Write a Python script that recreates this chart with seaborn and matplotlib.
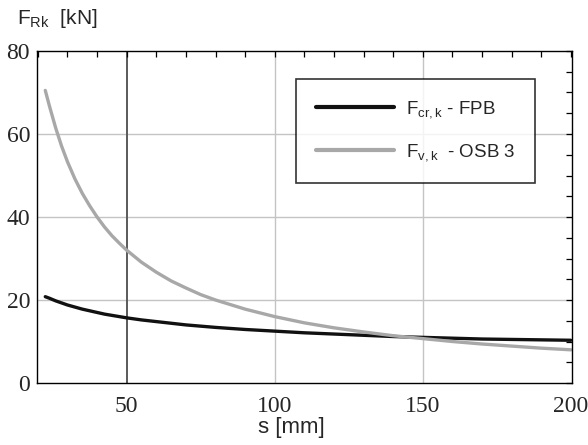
import matplotlib
matplotlib.use("Agg")
import matplotlib.pyplot as plt
import seaborn as sns
import pandas as pd
from matplotlib.ticker import MultipleLocator

# spacing s [mm]
s_mm = [22.5, 24, 26, 28, 30, 32.5, 35, 37.5, 40, 42.5, 45, 47.5, 50, 55,
        60, 65, 70, 75, 80, 90, 100, 110, 120, 130, 140, 150, 160, 170,
        180, 190, 200]
# F_cr,k - FPB [kN]
f_cr_fpb = [20.8, 20.4, 19.8, 19.3, 18.8, 18.3, 17.8, 17.4, 17.0, 16.6, 16.3,
            16.0, 15.7, 15.2, 14.8, 14.4, 14.0, 13.7, 13.4, 12.9, 12.5, 12.1,
            11.8, 11.5, 11.2, 11.0, 10.8, 10.6, 10.5, 10.4, 10.3]
# F_v,k - OSB 3 [kN]
f_v_osb = [70.5, 66.5, 61.5, 57.1, 53.3, 49.2, 45.7, 42.7, 40.0, 37.6, 35.5,
           33.7, 32.0, 29.1, 26.7, 24.6, 22.9, 21.3, 20.0, 17.8, 16.0, 14.5,
           13.3, 12.3, 11.4, 10.7, 10.0, 9.4, 8.9, 8.4, 8.0]

series_names = [r"F$_{\mathrm{cr,k}}$ - FPB", r"F$_{\mathrm{v,k}}$  - OSB 3"]
series_colors = ["#111111", "#a8a8a8"]

df = pd.concat([
    pd.DataFrame({"s": s_mm, "F": f_cr_fpb, "series": series_names[0]}),
    pd.DataFrame({"s": s_mm, "F": f_v_osb, "series": series_names[1]}),
])

sns.set_theme(style="white")
plt.rcParams["font.family"] = ["Liberation Sans", "DejaVu Sans"]
plt.rcParams["mathtext.fontset"] = "custom"
plt.rcParams["mathtext.rm"] = "Liberation Sans"
plt.rcParams["mathtext.it"] = "Liberation Sans:italic"

fig = plt.figure(figsize=(5.88, 4.45), dpi=100)
ax = fig.add_axes([0.0629, 0.1393, 0.9099, 0.7461])

# reference lines
for yv in (20, 40, 60):
    ax.axhline(yv, color="#c4c4c4", lw=1.0, zorder=0)
for xv in (100, 150):
    ax.axvline(xv, color="#c4c4c4", lw=1.0, zorder=0)
ax.axvline(50, color="#5a5a5a", lw=1.4, zorder=0)

sns.lineplot(data=df, x="s", y="F", hue="series", hue_order=series_names,
             palette=series_colors, linewidth=2.4, ax=ax, legend=True)

ax.set_xlim(19.7, 200.4)
ax.set_ylim(0, 80)
ax.xaxis.set_major_locator(MultipleLocator(50))
ax.xaxis.set_minor_locator(MultipleLocator(10))
ax.yaxis.set_major_locator(MultipleLocator(20))
ax.yaxis.set_minor_locator(MultipleLocator(5))
ax.tick_params(which="both", direction="in", top=True, right=True,
               color="black", width=0.9)
ax.tick_params(which="major", length=4)
ax.tick_params(which="minor", length=4)
ax.tick_params(axis="x", pad=9)
ax.tick_params(axis="y", pad=5)
for lab in ax.get_xticklabels() + ax.get_yticklabels():
    lab.set_fontfamily("Liberation Serif")
    lab.set_fontsize(17)
for sp in ax.spines.values():
    sp.set_color("black")
    sp.set_linewidth(1.0)

ax.set_xlabel("")
ax.set_ylabel("")
fig.text(291 / 588, 1 - 428 / 445, "s [mm]", fontsize=16,
         ha="center", va="center")
fig.text(0.029, 0.958, r"F$_{\mathrm{Rk}}$  [kN]", fontsize=15,
         ha="left", va="center")

leg = ax.legend(loc="upper left", bbox_to_anchor=(0.5034, 0.8225),
                bbox_transform=fig.transFigure, frameon=True, fancybox=False,
                fontsize=13.5, handlelength=4.2, handletextpad=0.6,
                labelspacing=1.2, borderpad=1.05, borderaxespad=0)
leg.get_frame().set_edgecolor("black")
leg.get_frame().set_linewidth(1.2)
for h in leg.get_lines():
    h.set_linewidth(3.0)

fig.savefig("out.png", dpi=100)
